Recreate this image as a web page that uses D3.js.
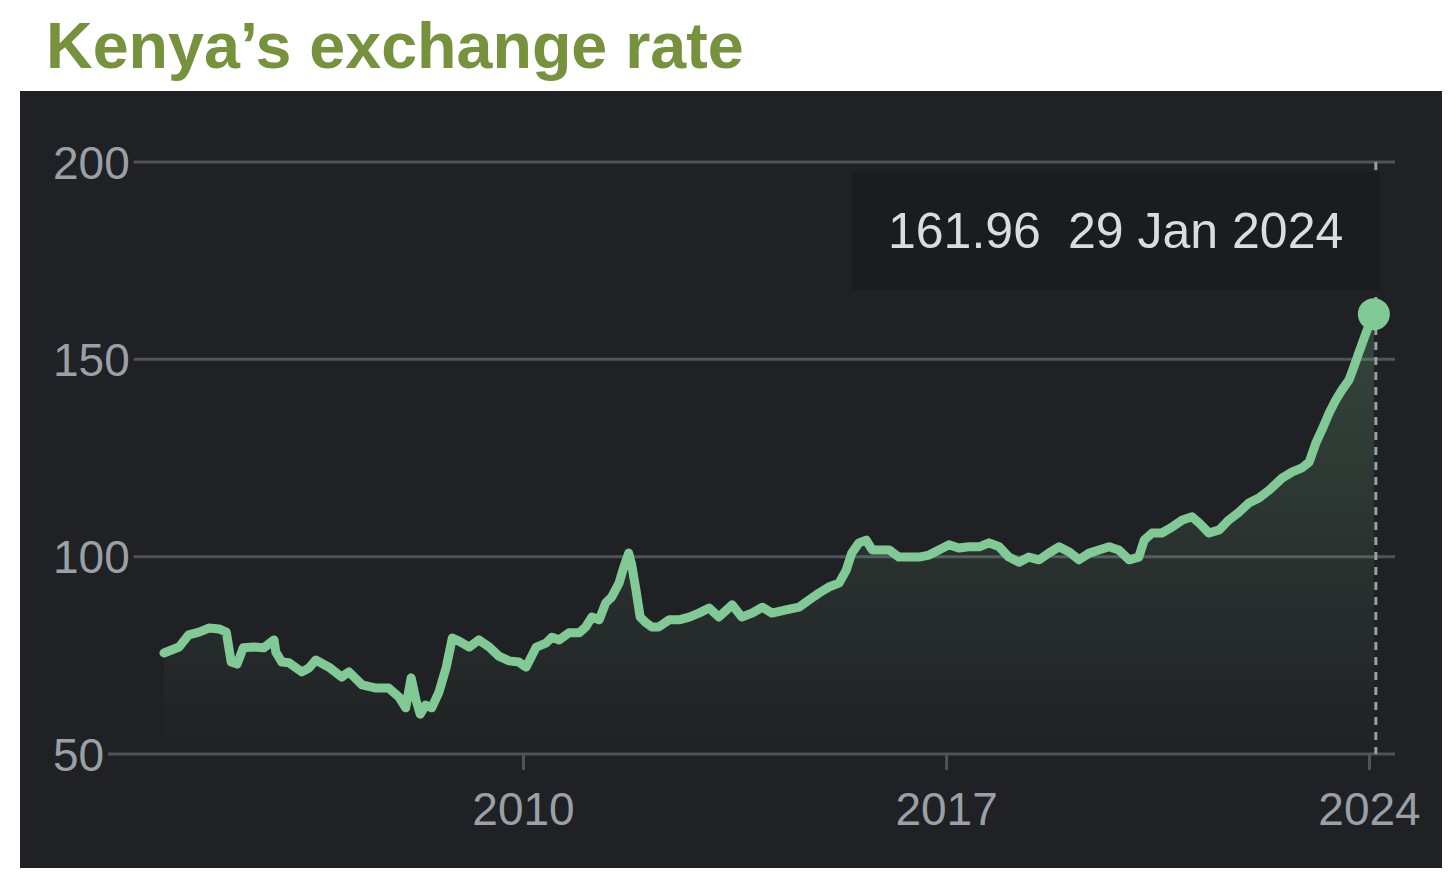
<!DOCTYPE html>
<html>
<head>
<meta charset="utf-8">
<script src="https://cdn.jsdelivr.net/npm/d3@7"></script>
<style>
  html, body { margin: 0; padding: 0; background: #ffffff; }
  svg { display: block; }
</style>
</head>
<body>
<svg id="chart" width="1456" height="878"></svg>
<script>
// ---- Data ----
const titleText = "Kenya\u2019s exchange rate";
const years = [2004.06,2004.31,2004.47,2004.64,2004.80,2004.97,
  2005.09,2005.17,2005.27,2005.37,2005.55,2005.71,2005.88,2005.91,
  2006.01,2006.13,2006.34,2006.46,2006.57,2006.79,
  2007.00,2007.12,2007.34,2007.57,2007.78,2007.95,
  2008.06,2008.15,2008.23,2008.30,2008.39,2008.49,2008.61,2008.73,2008.83,2008.94,
  2009.11,2009.27,2009.44,2009.60,2009.77,2009.93,
  2010.05,2010.22,2010.38,2010.48,2010.60,2010.76,2010.93,
  2011.04,2011.14,2011.26,2011.37,2011.47,2011.59,2011.67,2011.75,2011.80,2011.87,2011.94,
  2012.04,2012.13,2012.25,2012.42,2012.58,2012.75,2012.91,
  2013.08,2013.24,2013.46,2013.62,2013.79,2013.96,
  2014.12,2014.35,2014.57,2014.73,2014.90,
  2015.06,2015.23,2015.35,2015.44,2015.56,2015.68,2015.78,2015.89,
  2016.06,2016.22,2016.39,2016.55,2016.72,2016.88,
  2017.05,2017.21,2017.38,2017.55,2017.71,2017.88,
  2018.04,2018.21,2018.37,2018.54,2018.70,2018.87,
  2019.04,2019.20,2019.37,2019.53,2019.70,2019.86,
  2020.03,2020.19,2020.28,2020.41,2020.57,2020.74,2020.91,
  2021.07,2021.19,2021.35,2021.52,2021.68,2021.85,
  2022.01,2022.18,2022.35,2022.56,2022.73,2022.89,
  2023.01,2023.12,2023.22,2023.34,2023.45,2023.55,2023.67,2023.75,2023.83,2023.92,
  2024.00,2024.08];
const rates = [75.6,77.1,80.2,80.9,81.9,81.7,
  80.9,73.3,72.8,76.9,77.1,76.9,78.9,75.8,
  73.3,73.1,70.8,71.8,73.8,72.0,
  69.5,70.8,67.5,66.7,66.7,64.4,
  61.7,69.3,63.7,60.1,62.4,61.7,65.7,72.0,79.4,78.6,
  77.1,78.9,77.1,74.8,73.6,73.3,
  72.0,77.1,78.1,79.6,78.9,80.7,80.7,
  82.2,84.7,84.0,88.3,89.8,93.3,97.4,100.9,97.9,91.6,84.7,
  83.2,82.2,82.2,84.0,84.0,84.7,85.7,
  87.0,84.7,87.8,84.7,85.7,87.2,
  85.7,86.5,87.2,89.0,90.8,
  92.3,93.3,96.6,100.9,103.5,104.2,101.7,101.7,
  101.7,99.9,99.9,99.9,100.4,101.7,
  103.0,102.2,102.5,102.5,103.5,102.5,
  99.9,98.6,99.9,99.2,100.9,102.5,
  101.2,99.2,100.9,101.7,102.5,101.7,
  99.2,99.9,104.2,106.0,106.0,107.5,109.3,
  110.1,108.5,106.0,106.8,109.3,111.3,
  113.6,114.9,116.9,119.9,121.5,122.5,
  124.0,128.8,132.1,136.4,139.7,142.2,144.8,148.1,151.6,155.4,
  158.7,161.96];
const yTicks = [50, 100, 150, 200];
const xTickYears = [2010, 2017, 2024];
const tooltipValue = "161.96";
const tooltipDate = "29 Jan 2024";

// ---- Helpers ----
function yearToDate(y) {
  const yr = Math.floor(y);
  const start = new Date(yr, 0, 1).getTime();
  const end = new Date(yr + 1, 0, 1).getTime();
  return new Date(start + (y - yr) * (end - start));
}
const data = years.map((y, i) => ({ date: yearToDate(y), value: rates[i] }));

// ---- Layout ----
const svg = d3.select("#chart");
const panel = { x: 20, y: 91, w: 1422, h: 777 };
const gridX1 = 1395;

const x = d3.scaleTime()
  .domain([new Date(2010, 0, 1), new Date(2024, 0, 1)])
  .range([523, 1369]);
const y = d3.scaleLinear().domain([50, 200]).range([754, 162]);

const FONT = "'Liberation Sans', Arial, sans-serif";

// title
svg.append("text")
  .attr("x", 46).attr("y", 68)
  .attr("font-family", FONT).attr("font-weight", "bold")
  .attr("font-size", 64.6).attr("fill", "#76923c")
  .text(titleText);

// panel background
svg.append("rect")
  .attr("x", panel.x).attr("y", panel.y)
  .attr("width", panel.w).attr("height", panel.h)
  .attr("fill", "#202124");

// gradient for area
const defs = svg.append("defs");
const grad = defs.append("linearGradient")
  .attr("id", "areaGrad").attr("gradientUnits", "userSpaceOnUse")
  .attr("x1", 0).attr("x2", 0).attr("y1", y(162)).attr("y2", y(50));
grad.append("stop").attr("offset", "0%").attr("stop-color", "#81c995").attr("stop-opacity", 0.22);
grad.append("stop").attr("offset", "100%").attr("stop-color", "#81c995").attr("stop-opacity", 0.0);

// y grid lines + labels
const yAxis = svg.append("g");
yTicks.forEach(t => {
  const label = yAxis.append("text")
    .attr("x", 53).attr("y", y(t) + 16.5)
    .attr("font-family", FONT).attr("font-size", 46)
    .attr("fill", "#9aa0a6")
    .text(t);
  const w = label.node().getComputedTextLength();
  yAxis.append("line")
    .attr("x1", 53 + w + 4).attr("x2", gridX1)
    .attr("y1", y(t)).attr("y2", y(t))
    .attr("stroke", "#505357").attr("stroke-width", 3);
});

// x ticks
const xAxisG = svg.append("g").attr("transform", `translate(0,${y(50)})`);
const xAxis = d3.axisBottom(x)
  .tickValues(xTickYears.map(yr => new Date(yr, 0, 1)))
  .tickFormat(d3.timeFormat("%Y"))
  .tickSize(16).tickPadding(22);
xAxisG.call(xAxis);
xAxisG.select(".domain").remove();
xAxisG.selectAll(".tick line").attr("stroke", "#505357").attr("stroke-width", 3);
xAxisG.selectAll(".tick text")
  .attr("font-family", FONT).attr("font-size", 46)
  .attr("fill", "#9aa0a6");

// area
const area = d3.area()
  .x(d => x(d.date)).y0(y(50)).y1(d => y(d.value));
svg.append("path").datum(data)
  .attr("d", area).attr("fill", "url(#areaGrad)");

// dashed vertical line at last point
const last = data[data.length - 1];
svg.append("line")
  .attr("x1", x(last.date) + 2).attr("x2", x(last.date) + 2)
  .attr("y1", y(200)).attr("y2", y(50))
  .attr("stroke", "#9aa0a6").attr("stroke-width", 3)
  .attr("stroke-dasharray", "8,7");

// line
const line = d3.line().x(d => x(d.date)).y(d => y(d.value));
svg.append("path").datum(data)
  .attr("d", line).attr("fill", "none")
  .attr("stroke", "#81c995").attr("stroke-width", 9)
  .attr("stroke-linejoin", "round").attr("stroke-linecap", "round");

// end dot
svg.append("circle")
  .attr("cx", x(last.date)).attr("cy", y(last.value) + 2)
  .attr("r", 16).attr("fill", "#81c995");

// tooltip
svg.append("rect")
  .attr("x", 852).attr("y", 172).attr("width", 528).attr("height", 118)
  .attr("fill", "#1b1c1f");
svg.append("text")
  .attr("x", 888).attr("y", 248)
  .attr("font-family", FONT).attr("font-size", 50)
  .attr("fill", "#dadce0").text(tooltipValue);
svg.append("text")
  .attr("x", 1068).attr("y", 248)
  .attr("font-family", FONT).attr("font-size", 50)
  .attr("fill", "#dadce0").text(tooltipDate);
</script>
</body>
</html>
